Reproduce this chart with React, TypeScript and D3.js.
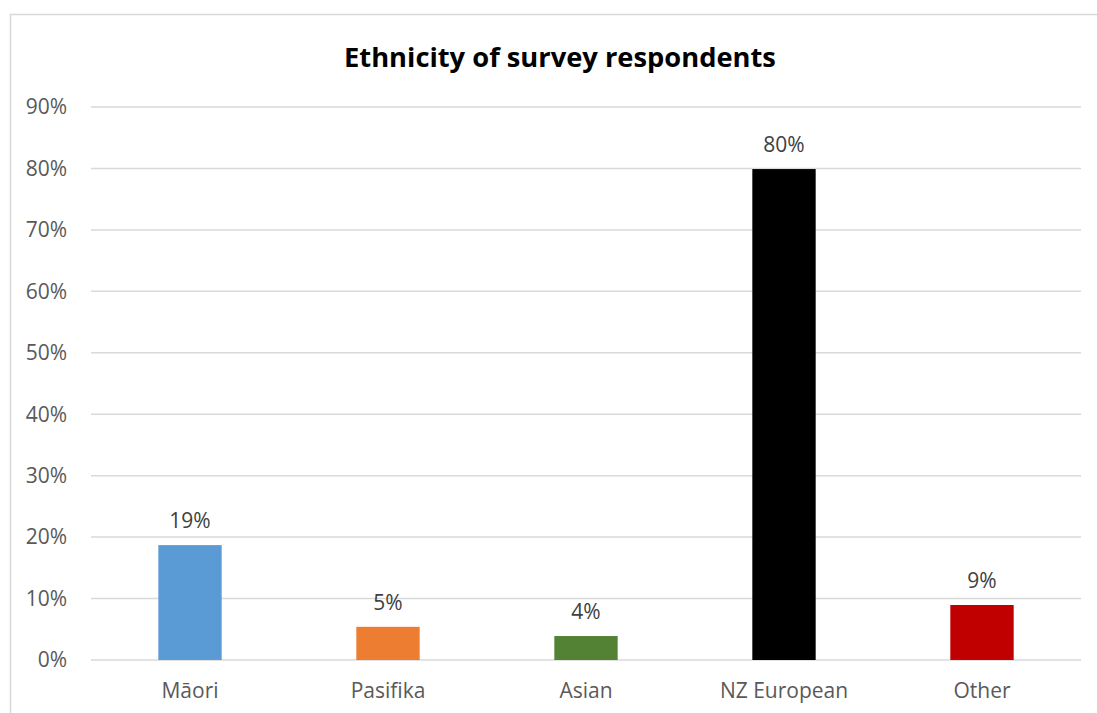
import React from "react";
import * as d3 from "d3";

const categories = ["Māori", "Pasifika", "Asian", "NZ European", "Other"];
const values = [0.187, 0.054, 0.039, 0.799, 0.0895];
const labels = ["19%", "5%", "4%", "80%", "9%"];
const colors = ["#5B9BD5", "#ED7D31", "#548235", "#000000", "#C00000"];
const yTicks = [0, 0.1, 0.2, 0.3, 0.4, 0.5, 0.6, 0.7, 0.8, 0.9];

export default function App() {
  const W = 1097, H = 713;
  const left = 91, right = 1081, top = 107, bottom = 660;
  const x = d3.scaleBand<string>().domain(categories).range([left, right]).paddingInner(0.68).paddingOuter(0.34);
  const y = d3.scaleLinear().domain([0, 0.9]).range([bottom, top]);
  const font = "'Open Sans', sans-serif";
  return (
    <svg width={W} height={H} style={{ position: "absolute", left: 0, top: 0 }}>
      <rect x={0} y={0} width={W} height={H} fill="#fff" />
      <rect x={10.5} y={14.5} width={1110} height={720} fill="#fff" stroke="#d9d9d9" strokeWidth={1.5} />
      <text x={560} y={67} textAnchor="middle" fontFamily={font} fontWeight="bold" fontSize={27.3} fill="#000">
        Ethnicity of survey respondents
      </text>
      {yTicks.map((t) => (
        <g key={t}>
          <line x1={left} x2={right} y1={y(t)} y2={y(t)} stroke="#d9d9d9" strokeWidth={1.5} />
          <text x={67} y={y(t)} dy="0.35em" textAnchor="end" fontFamily={font} fontSize={21} fill="#595959">
            {d3.format(".0%")(t)}
          </text>
        </g>
      ))}
      {categories.map((c, i) => (
        <g key={c}>
          <rect x={x(c)} y={y(values[i])} width={x.bandwidth()} height={y(0) - y(values[i])} fill={colors[i]} />
          <text x={(x(c) as number) + x.bandwidth() / 2} y={y(values[i]) - 24} dy="0.35em" textAnchor="middle" fontFamily={font} fontSize={21} fill="#404040">
            {labels[i]}
          </text>
          <text x={(x(c) as number) + x.bandwidth() / 2} y={691} dy="0.35em" textAnchor="middle" fontFamily={font} fontSize={21} fill="#595959">
            {c}
          </text>
        </g>
      ))}
    </svg>
  );
}
